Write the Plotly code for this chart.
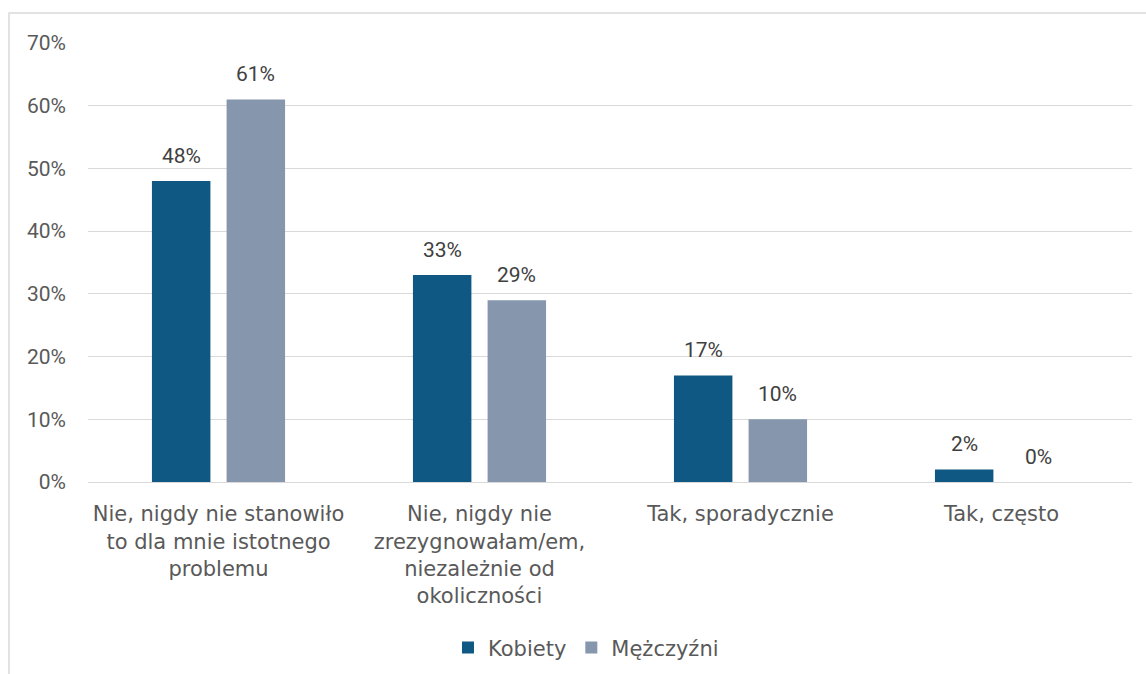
import plotly.graph_objects as go

categories = [
    "Nie, nigdy nie stanowiło<br>to dla mnie istotnego<br>problemu",
    "Nie, nigdy nie<br>zrezygnowałam/em,<br>niezależnie od<br>okoliczności",
    "Tak, sporadycznie",
    "Tak, często",
]
series_names = ["Kobiety", "Mężczyźni"]
kobiety = [48, 33, 17, 2]
mezczyzni = [61, 29, 10, 0]
y_ticks = [0, 10, 20, 30, 40, 50, 60, 70]
y_tick_labels = ["0%", "10%", "20%", "30%", "40%", "50%", "60%", "70%"]

colors = ["#0F5883", "#8596AD"]
offsets = [-0.255, 0.031]
bar_w = 0.224
FONT = "DejaVu Sans"
NUMFONT = "Roboto"

fig = go.Figure()
for name, vals, col, off in zip(series_names, [kobiety, mezczyzni], colors, offsets):
    fig.add_trace(go.Bar(
        name=name, x=categories, y=vals, marker_color=col,
        marker_line_width=0, width=bar_w, offset=off,
    ))

# data labels
annotations = []
for vals, off in zip([kobiety, mezczyzni], offsets):
    for i, (c, v) in enumerate(zip(categories, vals)):
        annotations.append(dict(
            x=i + off + bar_w / 2, y=v, xref="x", yref="y",
            text=f"{v}%", showarrow=False, yanchor="bottom",
            yshift=11, font=dict(family=NUMFONT, size=21, color="#404040"),
        ))

fig.update_layout(
    width=1146, height=674,
    margin=dict(l=88, r=14, t=43, b=192, autoexpand=False),
    paper_bgcolor="white", plot_bgcolor="white",
    barmode="group",
    font=dict(family=FONT, size=21, color="#595959"),
    annotations=annotations,
    showlegend=True,
    legend=dict(orientation="h", x=0.477, xanchor="center", y=-0.331, yanchor="top",
                font=dict(family=FONT, size=21, color="#595959"),
                itemwidth=30, tracegroupgap=0),
    shapes=[dict(type="rect", xref="paper", yref="paper",
                 x0=(9 - 88) / 1044, x1=(1160 - 88) / 1044,
                 y0=(482 - 690) / 439, y1=1 + 30 / 439,
                 line=dict(color="#D9D9D9", width=1.5), layer="below")],
)
fig.update_xaxes(
    type="category", showgrid=False, showline=True, linecolor="#D9D9D9", linewidth=1,
    ticks="", ticklabelstandoff=13, automargin=False,
    tickfont=dict(family=FONT, size=21, color="#595959"),
    range=[-0.5, 3.5],
)
fig.update_yaxes(
    range=[0, 70], tickmode="array", tickvals=y_ticks, ticktext=y_tick_labels,
    showgrid=True, automargin=False,
    gridcolor="#D9D9D9", gridwidth=1, zeroline=False, showline=False,
    ticklabelstandoff=21, tickfont=dict(family=NUMFONT, size=21, color="#595959"),
)

fig.write_html("out.html")
